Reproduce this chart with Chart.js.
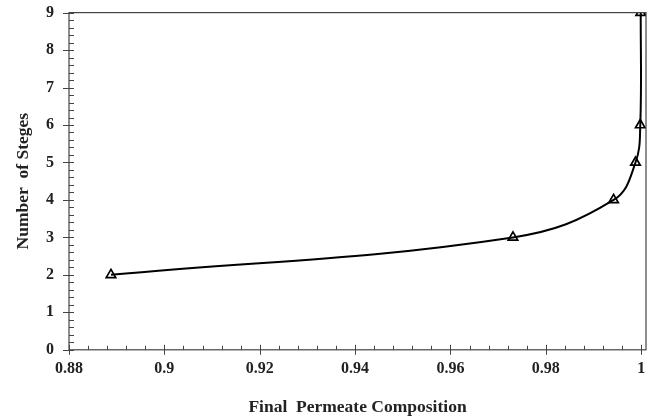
<!DOCTYPE html>
<html>
<head>
<meta charset="utf-8">
<script src="https://cdn.jsdelivr.net/npm/chart.js@4"></script>
<style>
  html, body { margin: 0; padding: 0; background: #fff; }
  #wrap { width: 660px; height: 418px; }
</style>
</head>
<body>
<div id="wrap"><canvas id="myChart"></canvas></div>
<script>
// permeate composition vs number of stages
const composition = [0.8888, 0.9731, 0.9942, 0.9988, 0.9998, 0.9999];
const stages = [2, 3, 4, 5, 6, 9];
const xTicks = [0.88, 0.9, 0.92, 0.94, 0.96, 0.98, 1];
const yTicks = [0, 1, 2, 3, 4, 5, 6, 7, 8, 9];
const xMinorStep = 0.004;
const yMinorStep = 0.2;

const serif = "'Liberation Serif', 'Times New Roman', serif";
const axisColor = "#444";

// box around the plot and the major / minor tick marks
const frameTicks = {
    id: "frameTicks",
    afterDraw(chart) {
        const c = chart.ctx;
        const a = chart.chartArea;
        const xs = chart.scales.x;
        const ys = chart.scales.y;
        c.save();
        c.strokeStyle = axisColor;
        c.lineWidth = 1.2;
        c.strokeRect(a.left, a.top, a.right - a.left, a.bottom - a.top);
        c.lineWidth = 1;
        c.beginPath();
        // y minor
        for (let v = 0; v <= 9.0001; v += yMinorStep) {
            const p = Math.round(ys.getPixelForValue(v)) + 0.5;
            c.moveTo(a.left, p);
            c.lineTo(a.left + 5, p);
        }
        // y major
        yTicks.forEach(v => {
            const p = Math.round(ys.getPixelForValue(v)) + 0.5;
            c.moveTo(a.left - 6, p);
            c.lineTo(a.left + 5, p);
        });
        // x minor
        for (let v = 0.88; v <= 1.0001; v += xMinorStep) {
            const p = Math.round(xs.getPixelForValue(v)) + 0.5;
            c.moveTo(p, a.bottom);
            c.lineTo(p, a.bottom - 4);
        }
        // x major
        xTicks.forEach(v => {
            const p = Math.round(xs.getPixelForValue(v)) + 0.5;
            c.moveTo(p, a.bottom + 5);
            c.lineTo(p, a.bottom - 5);
        });
        c.stroke();
        c.restore();
    }
};

const conf = {
    type: "scatter",
    data: {
        datasets: [{
            data: composition.map((x, i) => ({x: x, y: stages[i]})),
            showLine: true,
            borderColor: "#000",
            borderWidth: 2,
            tension: 0.4,
            pointStyle: "triangle",
            pointRadius: 5.5,
            pointBorderWidth: 1.7,
            pointBorderColor: "#000",
            pointBackgroundColor: "rgba(255,255,255,0)"
        }]
    },
    options: {
        responsive: true,
        maintainAspectRatio: false,
        animation: false,
        layout: { padding: { left: 3, right: 14, top: 0, bottom: 0 } },
        plugins: {
            legend: { display: false },
            tooltip: { enabled: false }
        },
        scales: {
            x: {
                type: "linear",
                min: 0.88,
                max: 1.001,
                afterBuildTicks: s => { s.ticks = xTicks.map(v => ({value: v})); },
                grid: { display: false, drawTicks: true, tickLength: 6 },
                border: { display: false },
                ticks: {
                    color: "#222",
                    padding: 3,
                    maxRotation: 0,
                    font: { family: serif, size: 16, weight: "bold" },
                    callback: v => String(+v.toFixed(2))
                },
                title: {
                    display: true,
                    text: "Final  Permeate Composition",
                    color: "#222",
                    padding: { top: 16, bottom: 0 },
                    font: { family: serif, size: 17.5, weight: "bold" }
                }
            },
            y: {
                min: 0,
                max: 9,
                afterBuildTicks: s => { s.ticks = yTicks.map(v => ({value: v})); },
                grid: { display: false, drawTicks: true, tickLength: 12 },
                border: { display: false },
                ticks: {
                    color: "#222",
                    padding: 3,
                    font: { family: serif, size: 16, weight: "bold" }
                },
                title: {
                    display: true,
                    text: "Number  of Steges",
                    color: "#222",
                    padding: { top: 10, bottom: 9 },
                    font: { family: serif, size: 17.5, weight: "bold" }
                }
            }
        }
    },
    plugins: [frameTicks]
};

const myChart = new Chart(document.getElementById("myChart"), conf);
</script>
</body>
</html>
